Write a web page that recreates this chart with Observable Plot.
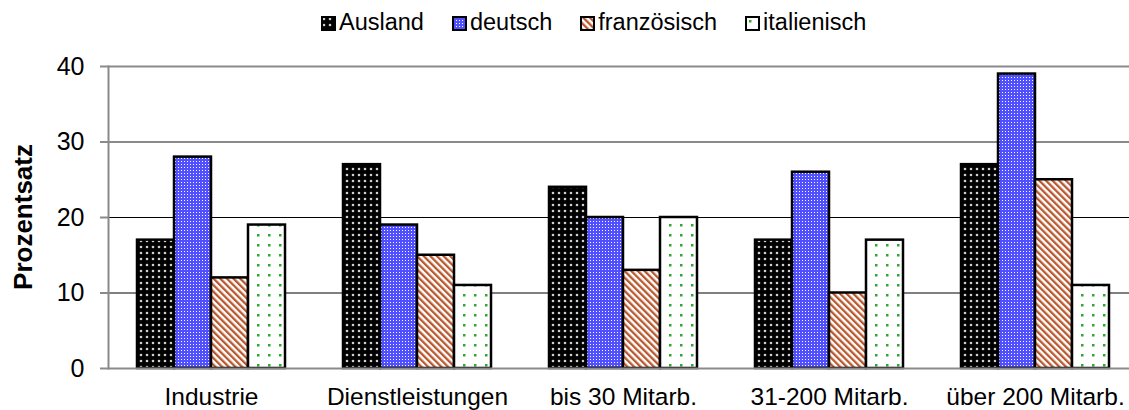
<!DOCTYPE html>
<html>
<head>
<meta charset="utf-8">
<script src="https://cdn.jsdelivr.net/npm/d3@7"></script>
<script src="https://cdn.jsdelivr.net/npm/@observablehq/plot@0.6"></script>
<style>
  html, body { margin: 0; padding: 0; background: #fff; }
  body { width: 1129px; height: 410px; position: relative; overflow: hidden; font-family: "Liberation Sans", Arial, sans-serif; }
  #legend { position: absolute; top: 11px; left: 321px; height: 24px; display: flex; align-items: center; font-size: 23.5px; line-height: 1; color: #000; white-space: nowrap; }
  #legend .item { display: flex; align-items: center; margin-right: 28px; }
  #legend svg { margin-right: 3px; display: block; }
  #chart { position: absolute; top: 40px; left: 0; }
</style>
</head>
<body>
<svg width="0" height="0" style="position:absolute">
  <defs>
    <pattern id="pAusland" patternUnits="userSpaceOnUse" width="6" height="6">
      <rect width="6" height="6" fill="#000"/>
      <circle cx="3" cy="3" r="1.3" fill="#cfcfcf"/>
    </pattern>
    <pattern id="pDeutsch" patternUnits="userSpaceOnUse" width="3" height="3">
      <rect width="3" height="3" fill="#5050ff"/>
      <rect x="1" y="1" width="1" height="1" fill="#ffffff"/>
    </pattern>
    <pattern id="pFranz" patternUnits="userSpaceOnUse" width="4.7" height="4.7" patternTransform="rotate(-45)">
      <rect width="4.7" height="4.7" fill="#ffffff"/>
      <rect width="2.3" height="4.7" fill="#b9582e"/>
    </pattern>
    <pattern id="pItal" patternUnits="userSpaceOnUse" width="11" height="10">
      <rect width="11" height="10" fill="#ffffff"/>
      <rect x="4" y="4" width="2.5" height="2.5" fill="#2ea82e"/>
    </pattern>
  </defs>
</svg>
<div id="legend"></div>
<div id="chart"></div>
<script>
const categories = ["Industrie", "Dienstleistungen", "bis 30 Mitarb.", "31-200 Mitarb.", "über 200 Mitarb."];
const series = ["Ausland", "deutsch", "französisch", "italienisch"];
const ausland = [17, 27, 24, 17, 27];
const deutsch = [28, 19, 20, 26, 39];
const franzoesisch = [12, 15, 13, 10, 25];
const italienisch = [19, 11, 20, 17, 11];
const yTicks = [0, 10, 20, 30, 40];
const gridValues = [10, 20, 30, 40];
const yLabel = "Prozentsatz";

const patterns = ["url(#pAusland)", "url(#pDeutsch)", "url(#pFranz)", "url(#pItal)"];
const valuesBySeries = [ausland, deutsch, franzoesisch, italienisch];

const data = [];
categories.forEach((c, i) => {
  series.forEach((s, j) => {
    data.push({category: c, series: s, value: valuesBySeries[j][i]});
  });
});

// Legend
const legend = d3.select("#legend");
series.forEach((s, j) => {
  const item = legend.append("div").attr("class", "item");
  const sw = item.append("svg").attr("width", 15).attr("height", 15);
  sw.append("rect").attr("x", 1).attr("y", 1).attr("width", 13).attr("height", 13)
    .attr("fill", patterns[j]).attr("stroke", "#000").attr("stroke-width", 2);
  item.append("span").text(s);
});

const chart = Plot.plot({
  width: 1129,
  height: 370,
  marginTop: 26,
  marginBottom: 42,
  marginLeft: 108,
  marginRight: -9,
  style: {fontFamily: "'Liberation Sans', Arial, sans-serif", fontSize: "25px", color: "#000", background: "#fff", overflow: "hidden"},
  fx: {domain: categories, padding: 0, label: null},
  x: {domain: series, axis: null, paddingInner: 0, paddingOuter: 0.72},
  y: {domain: [0, 40]},
  color: {domain: series, range: patterns},
  marks: [
    Plot.ruleY(gridValues, {stroke: d => d === 20 || d === 10 ? "#000" : "#8a8a8a", strokeWidth: d => d === 20 || d === 10 ? 1 : 2}),
    Plot.barY(data, {fx: "category", x: "series", y: "value", fill: "series", stroke: "#000", strokeWidth: 2.5, inset: 0}),
    Plot.ruleY([0], {stroke: "#8a8a8a", strokeWidth: 2}),
    Plot.frame({anchor: "left", facetAnchor: "left", stroke: "#8a8a8a", strokeWidth: 2}),
    Plot.axisY({ticks: yTicks, tickSize: 8, tickPadding: 16, stroke: "#8a8a8a", strokeWidth: 2, fontSize: 25, fill: "#000", label: null}),
    Plot.axisFx({anchor: "bottom", tickSize: 0, tickPadding: 19, fontSize: 24.5, fill: "#000", label: null})
  ]
});
document.getElementById("chart").appendChild(chart);

// Y axis title (rotated, bold)
const yScale = chart.scale("y");
const yMid = (yScale.apply(yScale.domain[0]) + yScale.apply(yScale.domain[1])) / 2;
d3.select(chart).append("text")
  .attr("transform", `translate(32,${yMid}) rotate(-90)`)
  .attr("text-anchor", "middle")
  .attr("font-weight", "bold")
  .attr("font-size", 26)
  .attr("fill", "#000")
  .text(yLabel);
</script>
</body>
</html>
